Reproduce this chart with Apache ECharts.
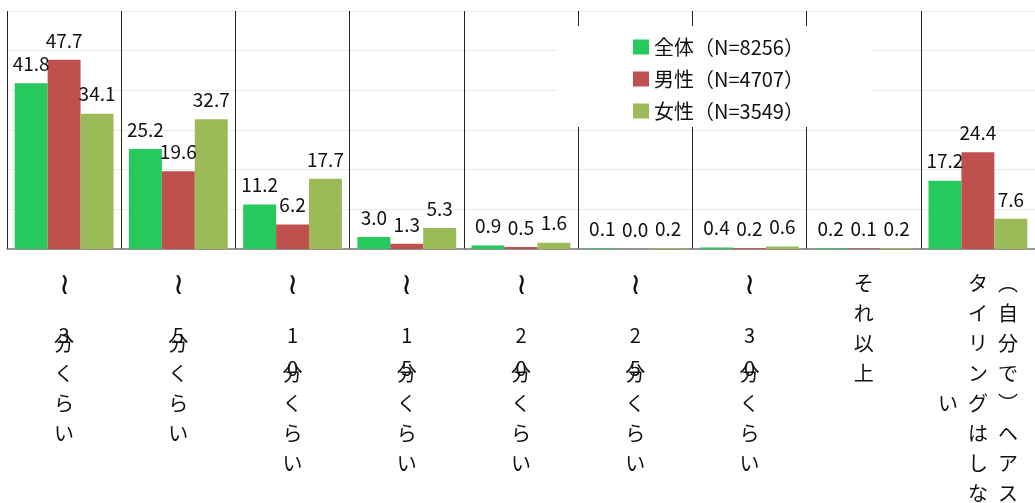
<!DOCTYPE html>
<html>
<head>
<meta charset="utf-8">
<script src="https://cdn.jsdelivr.net/npm/echarts@6/dist/echarts.min.js"></script>
<style>
    html, body { margin: 0; padding: 0; background: #fff; }
    #main { width: 1035px; height: 503px; }
</style>
</head>
<body>
<div id="main"></div>
<script>
// データ
var categories = ['～3分くらい', '～5分くらい', '～10分くらい', '～15分くらい', '～20分くらい',
    '～25分くらい', '～30分くらい', 'それ以上', '（自分で）ヘアスタイリングはしない'];
var seriesNames = ['全体（N=8256）', '男性（N=4707）', '女性（N=3549）'];
var allData = [41.8, 25.2, 11.2, 3.0, 0.9, 0.1, 0.4, 0.2, 17.2];
var maleData = [47.7, 19.6, 6.2, 1.3, 0.5, 0.0, 0.2, 0.1, 24.4];
var femaleData = [34.1, 32.7, 17.7, 5.3, 1.6, 0.2, 0.6, 0.2, 7.6];
var colors = ['#26c95c', '#c0504d', '#9bbb59'];

var FONT = "'Noto Sans CJK JP', sans-serif";
var ROWS = 8; // 縦書き1列の文字数
// 縦書き用の字形
var vert = { '～': '≀', '（': '︵', '）': '︶' };

// 縦書きラベル（右の列から左へ）
function verticalLabel(text) {
    var chars = Array.from(text).map(function (c) {
        if (/[0-9]/.test(c)) return '　'; // 数字は別の軸で描く
        return vert[c] || c;
    });
    var cols = [];
    for (var i = 0; i < chars.length; i += ROWS) {
        cols.push(chars.slice(i, i + ROWS));
    }
    var rows = cols[0].length;
    var lines = [];
    for (var r = 0; r < rows; r++) {
        var line = '';
        for (var k = cols.length - 1; k >= 0; k--) {
            var off = Math.ceil((rows - cols[k].length) / 2);
            var ch = cols[k][r - off] || '　';
            line += (ch === '≀' ? '{w|' : '{c|') + ch + '}';
        }
        lines.push(line);
    }
    return lines.join('\n');
}

// 数字だけ（分と重なる位置）
function digitLabel(text) {
    var d = text.match(/[0-9]/g);
    return d ? d.join('\n') : '';
}

var chart = echarts.init(document.getElementById('main'));

var values = [allData, maleData, femaleData];
var series = seriesNames.map(function (name, i) {
    return {
        name: name,
        type: 'bar',
        data: values[i],
        barGap: 0,
        barCategoryGap: '13.5%',
        itemStyle: { color: colors[i] },
        label: {
            show: true,
            position: 'top',
            distance: 10,
            fontSize: 19,
            fontFamily: FONT,
            color: '#111',
            formatter: function (p) { return p.value.toFixed(1); }
        }
    };
});

var option = {
    animation: false,
    backgroundColor: '#fff',
    textStyle: { fontFamily: FONT },
    grid: { left: 7, top: 11, width: 1032, height: 239 },
    legend: {
        orient: 'vertical',
        left: 557,
        top: 26,
        padding: [11, 68, 6, 76],
        backgroundColor: '#fff',
        icon: 'rect',
        itemWidth: 16,
        itemHeight: 15,
        itemGap: 12,
        textStyle: { fontSize: 20, fontFamily: FONT, color: '#111' },
        data: seriesNames
    },
    xAxis: [{
        type: 'category',
        data: categories,
        axisLine: { lineStyle: { color: '#777', width: 1.5 } },
        axisTick: { show: false },
        splitLine: { show: true, interval: 0, lineStyle: { color: '#222', width: 1 } },
        axisLabel: {
            interval: 0,
            margin: 19,
            color: '#111',
            formatter: verticalLabel,
            rich: {
                c: { width: 30, align: 'center', lineHeight: 30, fontSize: 20, fontFamily: FONT, color: '#111' },
                w: { width: 30, align: 'center', lineHeight: 30, fontSize: 30, fontFamily: FONT, color: '#111' }
            }
        }
    }, {
        type: 'category',
        data: categories,
        position: 'bottom',
        axisLine: { show: false },
        axisTick: { show: false },
        splitLine: { show: false },
        axisLabel: {
            interval: 0,
            margin: 70,
            color: '#111',
            fontSize: 20,
            lineHeight: 33,
            fontFamily: FONT,
            formatter: digitLabel
        }
    }],
    yAxis: {
        type: 'value',
        min: 0,
        max: 60,
        interval: 10,
        axisLine: { show: false },
        axisTick: { show: false },
        axisLabel: { show: false },
        splitLine: { lineStyle: { color: '#ebebeb', width: 1 } }
    },
    series: series
};
chart.setOption(option);
</script>
</body>
</html>
